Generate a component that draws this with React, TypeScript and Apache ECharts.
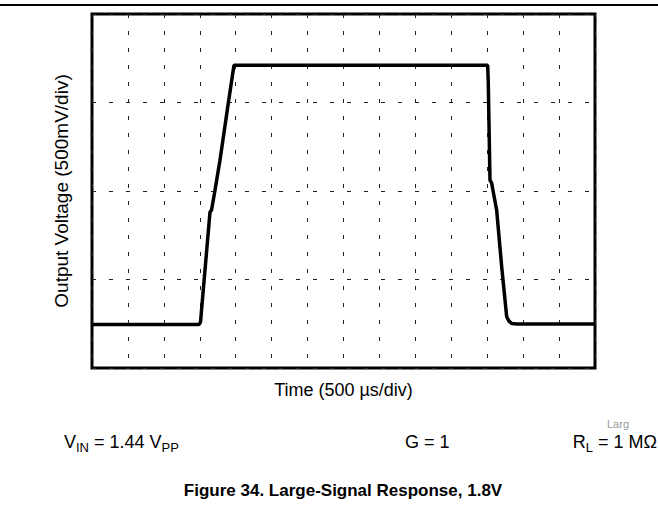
import React, { useEffect, useRef } from 'react';
import * as echarts from 'echarts';

// Waveform, in screen divisions (time: 500 µs/div, voltage: 500 mV/div)
const timeDiv = [0, 2.978, 3.02, 3.284, 3.326, 3.423, 3.562, 3.793, 3.952, 11.013, 11.03, 11.077, 11.124, 11.263, 11.403, 11.542, 11.606, 11.689, 11.82, 14];
const voltDiv = [0.491, 0.491, 0.519, 1.761, 1.783, 2.009, 2.348, 2.991, 3.42, 3.42, 3.217, 2.122, 2.088, 1.783, 1.143, 0.579, 0.53, 0.502, 0.497, 0.497];

const xDivisions = 14;
const yDivisions = 4;

const xAxisTitle = 'Time (500 µs/div)';
const yAxisTitle = 'Output Voltage (500mV/div)';
const condVin = '{m|V}{s|IN}{m| = 1.44 V}{s|PP}';
const condGain = 'G = 1';
const condLoad = '{m|R}{s|L}{m| = 1 MΩ}';
const cutLabel = 'Larg';
const caption = 'Figure 34. Large-Signal Response, 1.8V';

const FONT = '"Liberation Sans", Arial, Helvetica, sans-serif';

export default function App() {
  const ref = useRef<HTMLDivElement>(null);
  useEffect(() => {
    if (!ref.current) return;
    const chart = echarts.init(ref.current, undefined, { renderer: 'svg' });
    const data = timeDiv.map((t, i) => [t, voltDiv[i]]);
    const dash = { color: '#222', width: 1, type: [4, 13] as number[] };
    const rich = {
      m: { fontSize: 18, fontFamily: FONT, color: '#000' },
      s: { fontSize: 13, fontFamily: FONT, color: '#000', padding: [10, 0, 0, 0] },
    };
    chart.setOption({
      animation: false,
      backgroundColor: '#fff',
      grid: {
        left: 92, right: 63, top: 14, bottom: 138,
        show: true, borderColor: '#000', borderWidth: 3,
      },
      xAxis: {
        type: 'value', min: 0, max: xDivisions, interval: 1,
        axisLabel: { show: false }, axisLine: { show: false }, axisTick: { show: false },
        splitLine: { show: true, lineStyle: dash },
        name: xAxisTitle, nameLocation: 'middle', nameGap: 13,
        nameTextStyle: { fontSize: 18, fontFamily: FONT, color: '#000' },
      },
      yAxis: {
        type: 'value', min: 0, max: yDivisions, interval: 1,
        axisLabel: { show: false }, axisLine: { show: false }, axisTick: { show: false },
        splitLine: { show: true, lineStyle: dash },
        name: yAxisTitle, nameLocation: 'middle', nameGap: 21,
        nameTextStyle: { fontSize: 19, fontFamily: FONT, color: '#000' },
      },
      series: [{
        type: 'line', data, showSymbol: false, silent: true,
        lineStyle: { color: '#000', width: 3.5 },
      }],
      graphic: [
        { type: 'line', shape: { x1: 0, y1: 5, x2: 658, y2: 5 }, style: { stroke: '#000', lineWidth: 2 } },
        { type: 'text', x: 64, y: 442, style: { text: condVin, rich, verticalAlign: 'middle', align: 'left' } },
        { type: 'text', x: 405, y: 442, style: { text: condGain, fontSize: 18, fontFamily: FONT, fill: '#000', verticalAlign: 'middle', align: 'left' } },
        { type: 'text', x: 657, y: 442, style: { text: condLoad, rich, verticalAlign: 'middle', align: 'right' } },
        { type: 'text', x: 607, y: 424, style: { text: cutLabel, fontSize: 11, fontFamily: FONT, fill: '#999', verticalAlign: 'middle', align: 'left' } },
        { type: 'text', x: 343, y: 490, style: { text: caption, fontSize: 17, fontWeight: 'bold', fontFamily: FONT, fill: '#000', verticalAlign: 'middle', align: 'center' } },
      ],
    });
    return () => chart.dispose();
  }, []);
  return <div ref={ref} style={{ position: 'fixed', left: 0, top: 0, width: 658, height: 506 }} />;
}
